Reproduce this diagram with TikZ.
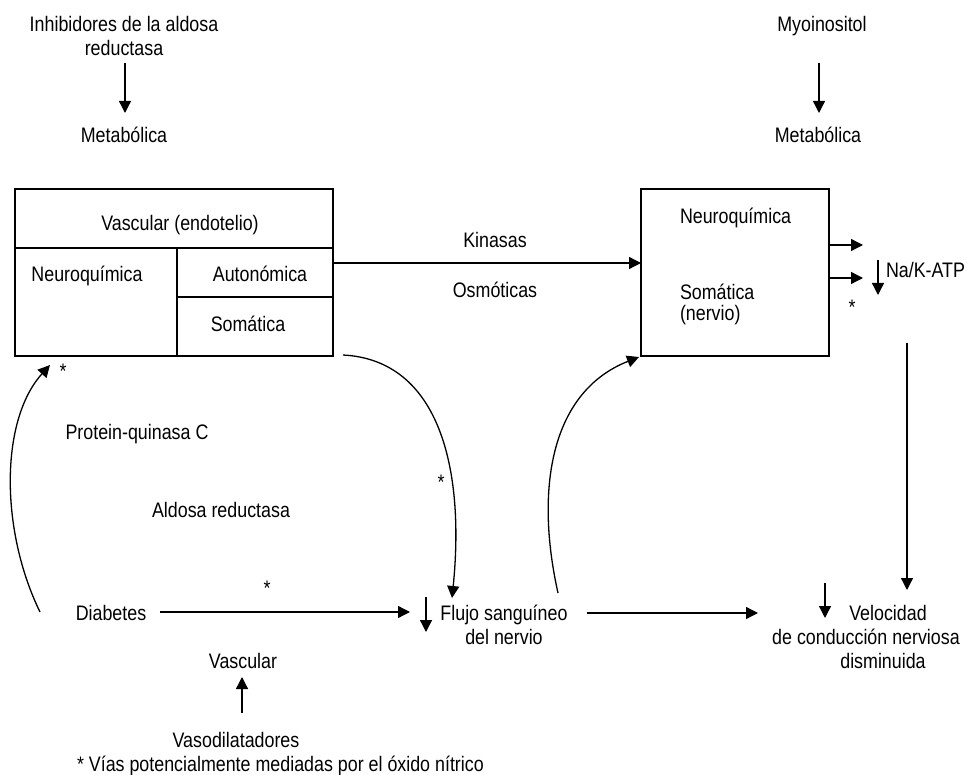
\documentclass[tikz,border=0pt]{standalone}
\usepackage{fontspec}
\setmainfont{Liberation Sans}[FakeStretch=0.85]
\usetikzlibrary{arrows.meta}
\begin{document}
\begin{tikzpicture}[x=1pt,y=-1pt,
  every node/.style={inner sep=0pt, outer sep=0pt, font=\fontsize{21}{24}\selectfont},
  lbl/.style={anchor=base, align=center},
  lbll/.style={anchor=base west, align=left},
  star/.style={anchor=center},
  con/.style={line width=1.3pt, -{Triangle[length=12pt,width=12pt]}},
  ln/.style={line width=1.3pt},
  box/.style={draw, line width=1.3pt}]
\useasboundingbox (0,0) rectangle (967,775);

% top labels
\node[lbl] (inh) at (124,56) {Inhibidores de la aldosa\\reductasa};
\node[lbl] (met1) at (124,143) {Metabólica};
\node[lbl] (myo) at (822,32) {Myoinositol};
\node[lbl] (met2) at (818,143) {Metabólica};
\coordinate (inhA) at (125,63);
\coordinate (inhB) at (125,113);
\coordinate (myoA) at (819,63);
\coordinate (myoB) at (819,113);
\draw[con] (inhA) -- (inhB);
\draw[con] (myoA) -- (myoB);

% left box
\node[box, anchor=north west, minimum width=318pt, minimum height=167pt] (L) at (15,189) {};
\draw[ln] (15,248) -- (333,248);
\draw[ln] (177,248) -- (177,356);
\draw[ln] (177,297) -- (333,297);
\node[lbl] (vend) at (180,231) {Vascular (endotelio)};
\node[lbl] (nq1) at (87,282) {Neuroquímica};
\node[lbl] (aut) at (260,282) {Autonómica};
\node[lbl] (som1) at (248,332) {Somática};

% right box
\node[box, anchor=north west, minimum width=188pt, minimum height=167pt] (R) at (641,189) {};
\node[lbll] (nq2) at (680,224) {Neuroquímica};
\node[lbll] (som2) at (680,321) {Somática\\[-3pt](nervio)};

% Kinasas arrow
\coordinate (kA) at (333,263);
\coordinate (kB) at (641,263);
\draw[con] (kA) -- (kB);
\node[lbl] (kin) at (495,248) {Kinasas};
\node[lbl] (osm) at (495,298) {Osmóticas};

% right side arrows
\coordinate (r1A) at (829,245);
\coordinate (r1B) at (863,245);
\coordinate (r2A) at (829,278);
\coordinate (r2B) at (863,278);
\draw[con] (r1A) -- (r1B);
\draw[con] (r2A) -- (r2B);
\coordinate (naA) at (878,260);
\coordinate (naB) at (878,295);
\draw[con] (naA) -- (naB);
\node[lbll] (nak) at (886,278) {Na/K-ATP};
\node[star] (s1) at (852,307) {*};
\coordinate (vA) at (907,343);
\coordinate (vB) at (907,590);
\draw[con] (vA) -- (vB);

% middle labels
\node[lbl] (pkc) at (137,440) {Protein-quinasa C};
\node[lbl] (ar) at (221,517) {Aldosa reductasa};

% bottom row
\node[lbl] (dia) at (111,620) {Diabetes};
\node[lbl] (flu) at (504,644) {Flujo sanguíneo\\del nervio};
\node[lbl] (vel) at (866,668) {\hspace*{44pt}Velocidad\\de conducción nerviosa\\\hspace*{34pt}disminuida};
\coordinate (dA) at (160,612);
\coordinate (dB) at (410,612);
\draw[con] (dA) -- (dB);
\node[star] (s2) at (267,588) {*};
\coordinate (fdA) at (426,597);
\coordinate (fdB) at (426,632);
\draw[con] (fdA) -- (fdB);
\coordinate (fA) at (587,613);
\coordinate (fB) at (758,613);
\draw[con] (fA) -- (fB);
\coordinate (vdA) at (825,583);
\coordinate (vdB) at (825,618);
\draw[con] (vdA) -- (vdB);

% vascular
\node[lbl] (vas) at (243,668) {Vascular};
\node[lbl] (vdil) at (236,747) {Vasodilatadores};
\coordinate (vuA) at (242,713);
\coordinate (vuB) at (242,677);
\draw[con] (vuA) -- (vuB);
\node[anchor=base west] (foot) at (77,771) {* Vías potencialmente mediadas por el óxido nítrico};

% curves
\coordinate (c1A) at (343,355);
\coordinate (c1B) at (452,598);
\draw[con] (c1A) .. controls (440,360) and (465,470) .. (c1B);
\node[star] (s3) at (441,482) {*};
\coordinate (c2A) at (558,593);
\coordinate (c2B) at (639,357);
\draw[con] (c2A) .. controls (535,490) and (550,392) .. (c2B);
\coordinate (c3A) at (40,612);
\coordinate (c3B) at (50,365);
\draw[con] (c3A) .. controls (0,530) and (0,420) .. (c3B);
\node[star] (s4) at (63,371) {*};
\end{tikzpicture}
\end{document}
